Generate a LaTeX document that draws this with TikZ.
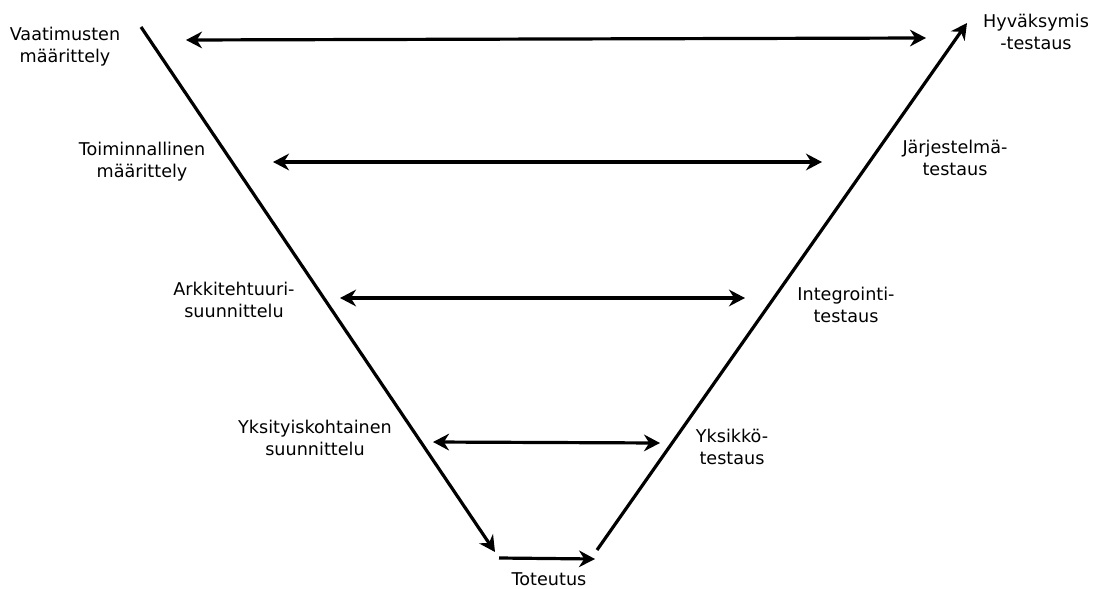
\documentclass[tikz,border=0pt]{standalone}
\usepackage{fontspec}
\setmainfont{DejaVu Sans}
\usetikzlibrary{arrows.meta}
\tikzset{
  >={Stealth[length=12pt,width=12.5pt]},
  flow/.style={->,line width=2.4pt,draw=#1},
  flow/.default=black,
  twoway/.style={<->,line width=2.4pt,draw=#1},
  twoway/.default=black,
  tag/.style={font=\fontsize{13.2pt}{16.5pt}\selectfont,align=center,inner sep=0pt},
}
\begin{document}
\begin{tikzpicture}[x=0.75pt,y=-0.75pt]
  \useasboundingbox (0,0) rectangle (1094,588);
  % the V
  \coordinate (lefttop) at (141,27);
  \coordinate (leftbot) at (495,552);
  \coordinate (botstart) at (499,558);
  \coordinate (botend) at (595,559);
  \coordinate (rightbot) at (597,550);
  \coordinate (righttop) at (967,23);
  \draw[flow] (lefttop) -- (leftbot);
  \draw[flow] (botstart) -- (botend);
  \draw[flow] (rightbot) -- (righttop);
  % levels
  \coordinate (l1) at (186,40);  \coordinate (r1) at (926,38);
  \coordinate (l2) at (273,162); \coordinate (r2) at (822,162);
  \coordinate (l3) at (340,298); \coordinate (r3) at (745,298);
  \coordinate (l4) at (433,442); \coordinate (r4) at (660,443);
  \foreach \i in {1,...,4} \draw[twoway] (l\i) -- (r\i);
  % labels
  \node[tag] (vaat) at (65,47) {Vaatimusten\\määrittely};
  \node[tag] (hyv) at (1036,32) {Hyväksymis\\-testaus};
  \node[tag] (toim) at (142,162) {Toiminnallinen\\määrittely};
  \node[tag] (jarj) at (955,158) {Järjestelmä-\\testaus};
  \node[tag] (arkk) at (234,300) {Arkkitehtuuri-\\suunnittelu};
  \node[tag] (integ) at (846,305) {Integrointi-\\testaus};
  \node[tag] (yksit) at (315,438) {Yksityiskohtainen\\suunnittelu};
  \node[tag] (yksik) at (732,447) {Yksikkö-\\testaus};
  \node[tag] (tot) at (549,579) {Toteutus};
\end{tikzpicture}
\end{document}
